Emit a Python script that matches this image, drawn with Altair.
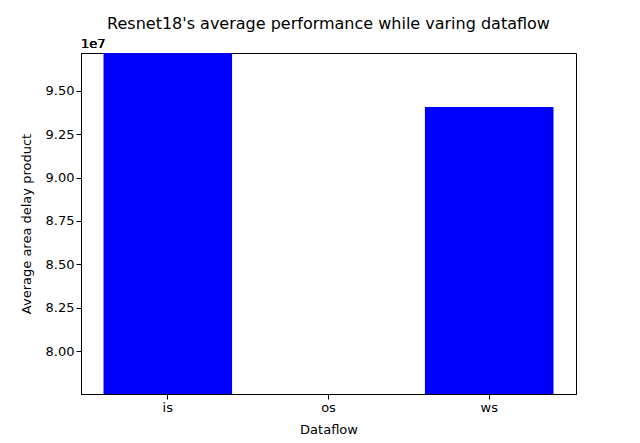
import altair as alt
import pandas as pd

dataflow = ["is", "os", "ws"]
adp = [9.80, 7.50, 9.408]  # units of 1e7
y_ticks = [8.00, 8.25, 8.50, 8.75, 9.00, 9.25, 9.50]

df = pd.DataFrame({"Dataflow": dataflow, "adp": adp})
font = "DejaVu Sans"

bars = alt.Chart(df).mark_bar(color="blue", clip=True).encode(
    x=alt.X("Dataflow:N", sort=dataflow,
            scale=alt.Scale(paddingInner=0.2, paddingOuter=0.14),
            axis=alt.Axis(labelAngle=0, title="Dataflow", titlePadding=9)),
    y=alt.Y("adp:Q", scale=alt.Scale(domain=[7.752, 9.719], nice=False, zero=False),
            axis=alt.Axis(values=y_ticks, format=".2f", title="Average area delay product",
                          titlePadding=12)),
)

offset = alt.Chart(df).mark_text(align="left", baseline="bottom", font=font, fontSize=13,
                                 fontWeight="normal").encode(
    x=alt.value(0), y=alt.value(-2), text=alt.value("1e7")
)

chart = (bars + offset).properties(
    width=495, height=341,
    autosize=alt.AutoSizeParams(type="none"),
    padding={"left": 73, "top": 45, "right": 56, "bottom": 41},
    title=alt.Title("Resnet18's average performance while varing dataflow",
                    font=font, fontSize=16, fontWeight="normal", offset=6),
).configure_axis(
    grid=False, domainColor="black", tickColor="black", labelColor="black",
    titleColor="black", labelFont=font, titleFont=font, labelFontSize=13,
    titleFontSize=13, titleFontWeight="normal", tickSize=5,
).configure_view(stroke="black", strokeWidth=1)

chart.save("out.html", embed_options={"renderer": "svg", "actions": False})
